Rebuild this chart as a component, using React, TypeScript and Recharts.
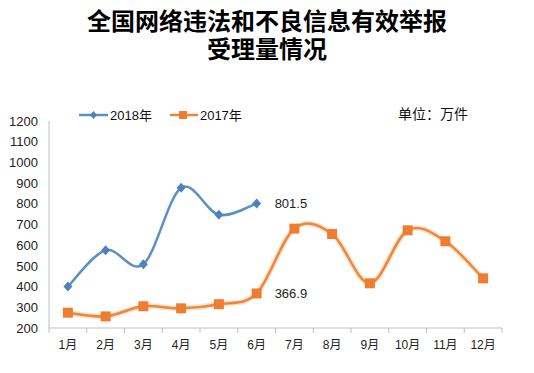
import { LineChart, Line, XAxis, YAxis, LabelList } from "recharts";

const months = ["1月", "2月", "3月", "4月", "5月", "6月", "7月", "8月", "9月", "10月", "11月", "12月"];
const values2018 = [400, 576, 508, 877, 747, 801.5];
const values2017 = [274, 256, 305, 295, 315, 366.9, 680, 654, 416, 672, 619, 440];
const yTicks = [200, 300, 400, 500, 600, 700, 800, 900, 1000, 1100, 1200];

const data = months.map((m, i) => ({
  month: m,
  y2018: values2018[i] ?? null,
  y2017: values2017[i] ?? null,
}));

const CHART_W = 534;
const CHART_H = 373;
const MARGIN = { top: 121, right: 32, bottom: 15, left: 0 };
const Y_W = 49;
const HALF_BAND = (CHART_W - Y_W - MARGIN.right) / months.length / 2;

const BLUE = "#5b8fc8";
const BLUE_DOT = "#4f81bd";
const ORANGE = "#e9883f";
const ORANGE_DOT = "#ed7d31";
const AXIS = "#bfbfbf";
const NUM_FONT = "'Liberation Sans', Arial, 'Noto Sans CJK SC', sans-serif";
const CJK_FONT = "'Noto Sans CJK SC', sans-serif";

// excel-like smoothing (catmull-rom style bezier)
const smoothCurve = (context: any) => {
  let pts: number[][] = [];
  const flush = () => {
    if (!pts.length) return;
    context.moveTo(pts[0][0], pts[0][1]);
    for (let i = 0; i < pts.length - 1; i++) {
      const p0 = pts[i - 1] || pts[i];
      const p1 = pts[i];
      const p2 = pts[i + 1];
      const p3 = pts[i + 2] || p2;
      context.bezierCurveTo(
        p1[0] + (p2[0] - p0[0]) / 6,
        p1[1] + (p2[1] - p0[1]) / 6,
        p2[0] - (p3[0] - p1[0]) / 6,
        p2[1] - (p3[1] - p1[1]) / 6,
        p2[0],
        p2[1]
      );
    }
  };
  return {
    areaStart() {},
    areaEnd() {},
    lineStart() {
      pts = [];
    },
    lineEnd() {
      flush();
      pts = [];
    },
    point(x: number, y: number) {
      pts.push([+x, +y]);
    },
  };
};

const Diamond = (props: any) => {
  const { cx, cy } = props;
  if (cx == null || cy == null || props.value == null) return <g key={props.key} />;
  return (
    <path
      key={props.key}
      d={`M${cx},${cy - 5}L${cx + 4.5},${cy}L${cx},${cy + 5}L${cx - 4.5},${cy}Z`}
      fill={BLUE_DOT}
    />
  );
};

const Square = (props: any) => {
  const { cx, cy } = props;
  if (cx == null || cy == null || props.value == null) return <g key={props.key} />;
  return <rect key={props.key} x={cx - 5} y={cy - 5} width={10} height={10} fill={ORANGE_DOT} />;
};

// month label plus tick marks on the category boundaries
const MonthTick = (props: any) => {
  const { x, y, payload, index } = props;
  return (
    <g>
      <line x1={x - HALF_BAND} y1={y} x2={x - HALF_BAND} y2={y + 5} stroke={AXIS} />
      {index === months.length - 1 && (
        <line x1={x + HALF_BAND} y1={y} x2={x + HALF_BAND} y2={y + 5} stroke={AXIS} />
      )}
      <text x={x} y={y + 17} textAnchor="middle" dominantBaseline="central" fontSize={12} fontFamily={NUM_FONT} fill="#222">
        {payload.value}
      </text>
    </g>
  );
};

const endLabel = (props: any) => {
  const { x, y, value, index } = props;
  if (index !== 5 || value == null) return null;
  return (
    <text x={x + 18} y={y} dominantBaseline="central" fontSize={13} fontFamily={NUM_FONT} fill="#222">
      {value}
    </text>
  );
};

const ChartLegend = () => (
  <div
    style={{
      position: "absolute",
      left: 79,
      top: 105,
      display: "flex",
      alignItems: "center",
      fontSize: 13,
      fontFamily: NUM_FONT,
      color: "#111",
    }}
  >
    <svg width={30} height={12}>
      <line x1={0} y1={6} x2={29} y2={6} stroke={BLUE} strokeWidth={2.5} />
      <path d="M14.5,2L18,6L14.5,10L11,6Z" fill={BLUE_DOT} />
    </svg>
    <span style={{ marginLeft: 1 }}>2018年</span>
    <svg width={30} height={12} style={{ marginLeft: 17 }}>
      <line x1={1} y1={6} x2={29} y2={6} stroke={ORANGE} strokeWidth={2.5} />
      <rect x={10} y={2} width={8} height={8} fill={ORANGE_DOT} />
    </svg>
    <span style={{ marginLeft: 1 }}>2017年</span>
  </div>
);

// latin primary font keeps the line boxes compact, glyphs fall back to Noto CJK
const titleStyle = {
  position: "absolute" as const,
  left: 0,
  width: CHART_W,
  textAlign: "center" as const,
  fontSize: 24,
  lineHeight: "24px",
  fontWeight: 700,
  fontFamily: "'Liberation Sans', " + CJK_FONT,
  color: "#000",
};

export default function App() {
  return (
    <div style={{ position: "absolute", left: 0, top: 0, width: CHART_W, height: CHART_H, background: "#fff" }}>
      <div style={{ ...titleStyle, top: 10 }}>全国网络违法和不良信息有效举报</div>
      <div style={{ ...titleStyle, top: 38 }}>受理量情况</div>
      <div
        style={{
          position: "absolute",
          left: 398,
          top: 104,
          fontSize: 14,
          lineHeight: "18px",
          fontFamily: CJK_FONT,
          color: "#111",
        }}
      >
        单位：万件
      </div>
      <ChartLegend />
      <LineChart width={CHART_W} height={CHART_H} data={data} margin={MARGIN}>
        <XAxis
          dataKey="month"
          height={30}
          padding={{ left: HALF_BAND, right: HALF_BAND }}
          axisLine={{ stroke: AXIS }}
          tickLine={false}
          tickSize={0}
          tickMargin={0}
          tick={MonthTick}
          interval={0}
        />
        <YAxis
          width={Y_W}
          domain={[200, 1200]}
          ticks={yTicks}
          interval={0}
          axisLine={{ stroke: AXIS }}
          tickLine={false}
          tickSize={0}
          tickMargin={11}
          tick={{ fontSize: 13, fill: "#222", fontFamily: NUM_FONT }}
        />
        <Line
          dataKey="y2017"
          type={smoothCurve as any}
          stroke="#fde3cc"
          strokeWidth={5.5}
          dot={false}
          activeDot={false}
          legendType="none"
          isAnimationActive={false}
        />
        <Line
          dataKey="y2017"
          name="2017年"
          type={smoothCurve as any}
          stroke={ORANGE}
          strokeWidth={2.5}
          dot={Square}
          activeDot={false}
          isAnimationActive={false}
        >
          <LabelList dataKey="y2017" content={endLabel} />
        </Line>
        <Line
          dataKey="y2018"
          name="2018年"
          type={smoothCurve as any}
          stroke={BLUE}
          strokeWidth={2.5}
          dot={Diamond}
          activeDot={false}
          isAnimationActive={false}
        >
          <LabelList dataKey="y2018" content={endLabel} />
        </Line>
      </LineChart>
    </div>
  );
}
